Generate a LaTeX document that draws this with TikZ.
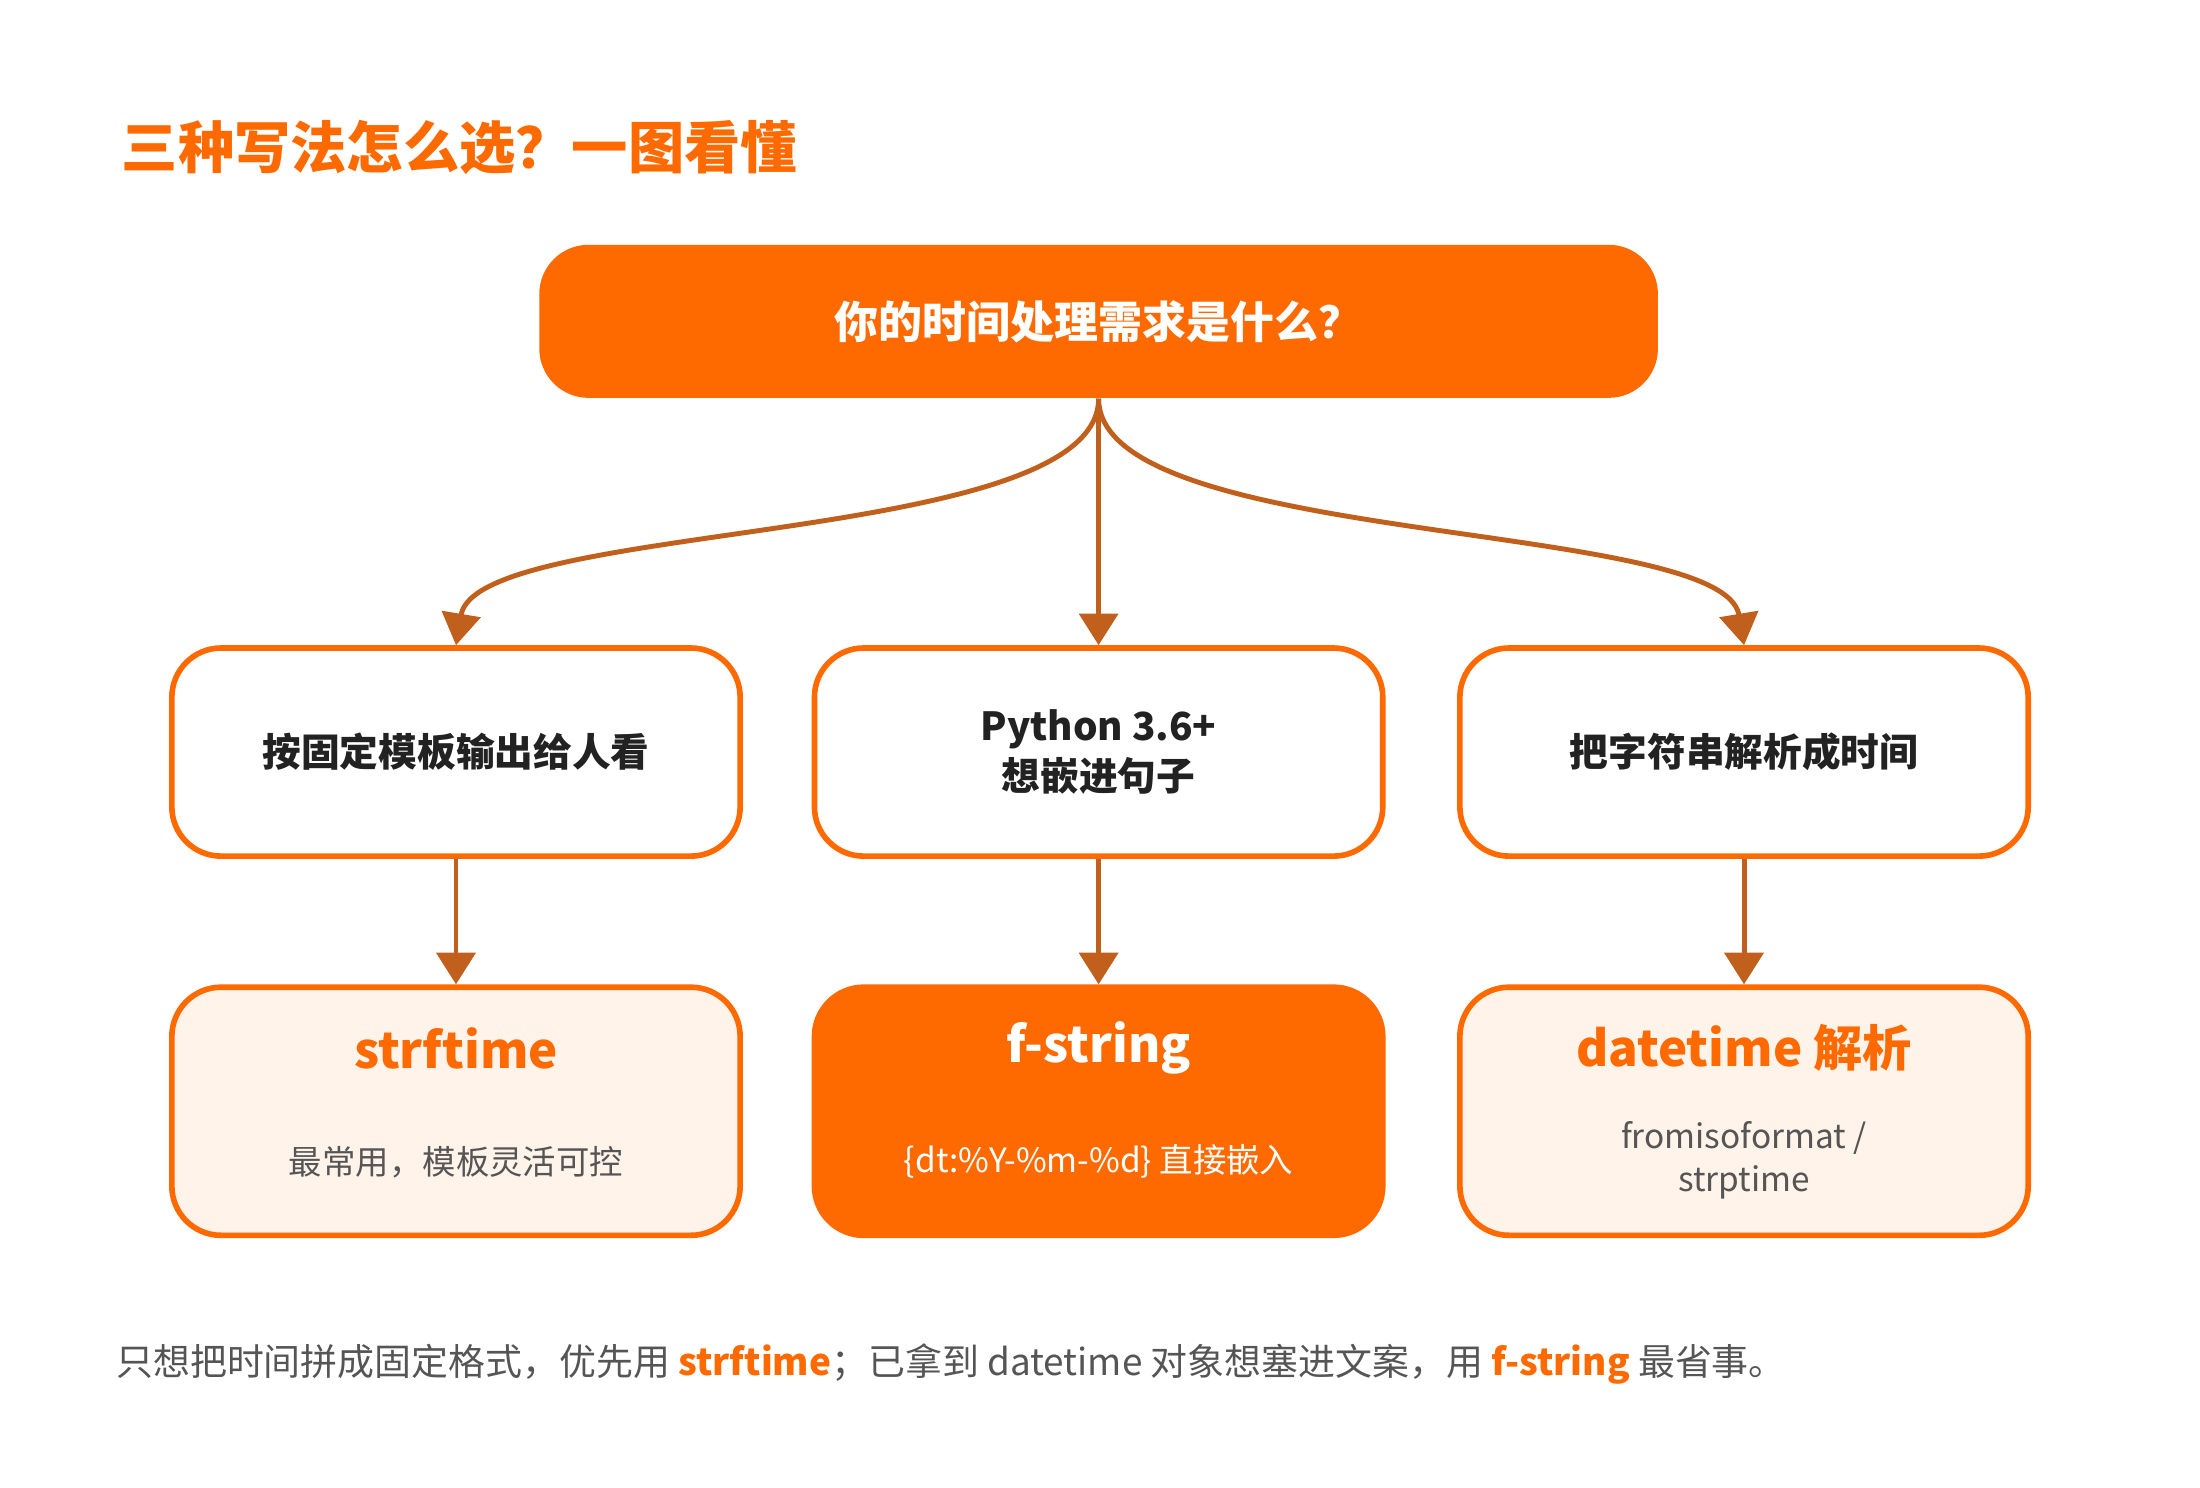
\documentclass[tikz,border=0pt]{standalone}
\usepackage{fontspec}
\setmainfont{Noto Sans CJK SC}
\usetikzlibrary{arrows.meta}
\definecolor{orng}{HTML}{FF6A00}
\definecolor{arw}{HTML}{C0601C}
\definecolor{pale}{HTML}{FFF3EA}
\definecolor{ink}{HTML}{222222}
\definecolor{gry}{HTML}{555555}
\tikzset{
  box/.style={draw=orng,line width=1.6pt,rounded corners=14pt,minimum width=5.68cm,minimum height=2.08cm,align=center,fill=white},
  res/.style={box,minimum height=2.48cm,fill=pale},
  flow/.style={draw=arw,line width=1.4pt,-{Triangle[length=9pt,width=11pt]}}
}
\begin{document}
\begin{tikzpicture}[x=0.01403cm,y=-0.01403cm]
  \useasboundingbox (0,0) rectangle (1568,1060);
  \node[anchor=west,text=orng,font=\fontsize{16}{18}\selectfont\bfseries] (title) at (78,105) {三种写法怎么选？一图看懂};
  \node[fill=orng,rounded corners=14pt,minimum width=11.18cm,minimum height=1.53cm,text=white,font=\fontsize{12.5}{15}\selectfont\bfseries] (need) at (783,229) {你的时间处理需求是什么？};
  \node[box,font=\fontsize{11}{14}\selectfont\bfseries,text=ink] (tmpl) at (325,536) {按固定模板输出给人看};
  \node[box,font=\fontsize{11}{14}\selectfont\bfseries,text=ink] (embed) at (783,536) {Python 3.6+\\想嵌进句子};
  \node[box,font=\fontsize{11}{14}\selectfont\bfseries,text=ink] (parse) at (1243,536) {把字符串解析成时间};
  \node[res] (strf) at (325,792) {};
  \node[res,fill=orng] (fstr) at (783,792) {};
  \node[res] (dtp) at (1243,792) {};
  \node[text=orng,font=\fontsize{14}{16}\selectfont\bfseries] at (325,747) {strftime};
  \node[text=gry,font=\fontsize{9.5}{12}\selectfont] at (325,828) {最常用，模板灵活可控};
  \node[text=white,font=\fontsize{14}{16}\selectfont\bfseries] at (783,747) {f-string};
  \node[text=white,font=\fontsize{9.5}{12}\selectfont] at (783,828) {\{dt:\%Y-\%m-\%d\} 直接嵌入};
  \node[text=orng,font=\fontsize{14}{16}\selectfont\bfseries] at (1243,747) {datetime 解析};
  \node[text=gry,font=\fontsize{9.5}{12}\selectfont,align=center] at (1243,827) {fromisoformat /\\strptime};
  \draw[flow] (need.south) .. controls (783,390) and (340,370) .. (tmpl.north);
  \draw[flow] (need.south) -- (embed.north);
  \draw[flow] (need.south) .. controls (783,390) and (1228,370) .. (parse.north);
  \draw[flow] (tmpl) -- (strf);
  \draw[flow] (embed) -- (fstr);
  \draw[flow] (parse) -- (dtp);
  \node[anchor=west,text=gry,font=\fontsize{10.5}{13}\selectfont] (note) at (74,972) {只想把时间拼成固定格式，优先用 \textcolor{orng}{\bfseries strftime}；已拿到 datetime 对象想塞进文案，用 \textcolor{orng}{\bfseries f-string} 最省事。};
\end{tikzpicture}
\end{document}
